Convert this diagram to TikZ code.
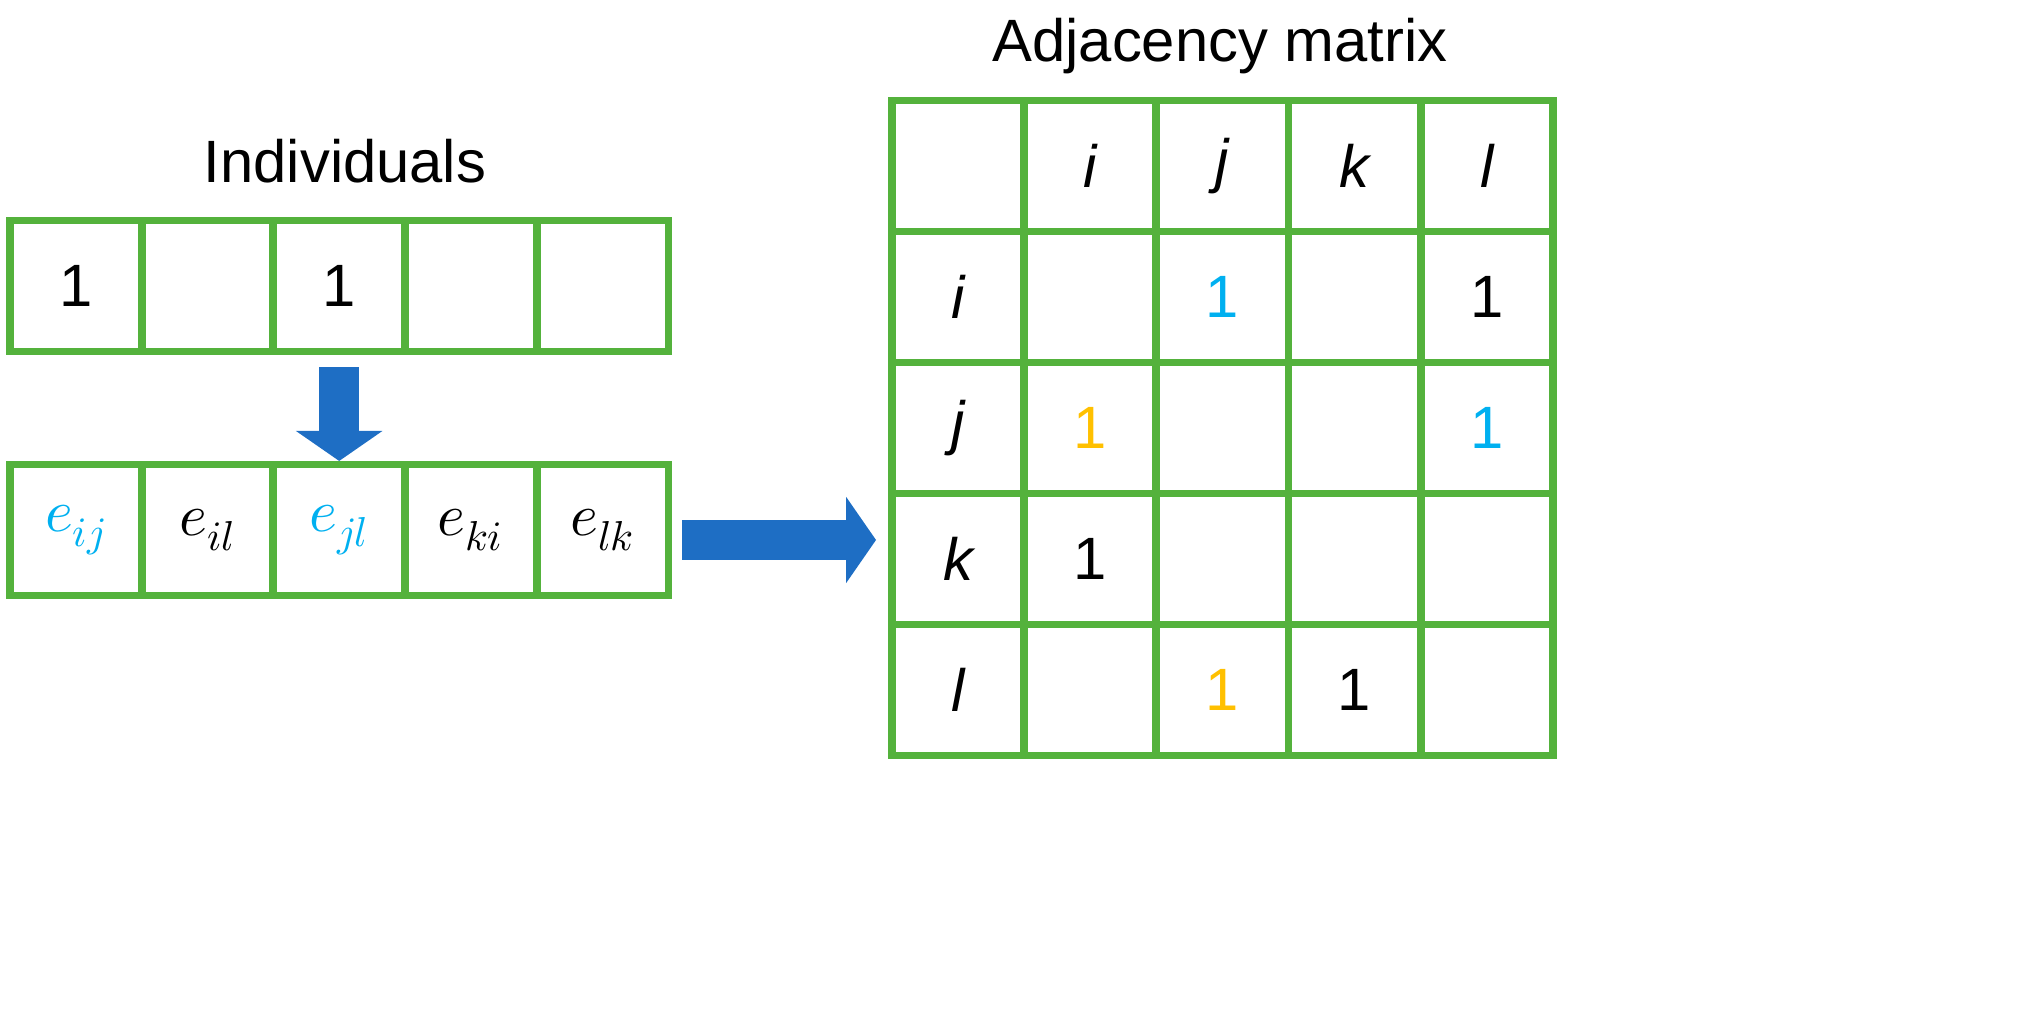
\documentclass[tikz,border=0pt]{standalone}
\usepackage{fontspec}
\setmainfont{Liberation Sans}
\usepackage{unicode-math}
\setmathfont{Latin Modern Math}
\usetikzlibrary{arrows.meta,positioning}
\definecolor{cellgreen}{RGB}{84,178,60}
\definecolor{arrowblue}{RGB}{30,110,196}
\definecolor{hicyan}{RGB}{0,176,240}
\definecolor{hiorange}{RGB}{255,192,0}
\tikzset{
  cell/.style={draw=cellgreen, line width=2.2pt, inner sep=0pt,
    minimum width=1.32cm, minimum height=1.31cm, font=\fontsize{17}{20}\selectfont},
  mcell/.style={cell, minimum width=1.322cm, minimum height=1.31cm},
  bigarrow/.style={arrowblue, line width=0.4cm,
    -{Triangle[length=0.3cm,width=0.85cm]}}
}
\begin{document}
\begin{tikzpicture}[x=1cm,y=1cm]
\useasboundingbox (0,0) rectangle (20.4,10.11);
% Titles
\node [font=\fontsize{17}{20}\selectfont] (indtitle) at (3.45,8.5) {Individuals};
\node [font=\fontsize{17}{20}\selectfont] (adjtitle) at (12.2,9.65) {Adjacency matrix};
% Individuals row
\foreach \t [count=\c] in {1,,1,,}
  \node [cell] (top\c) at (0.76+1.316*\c-1.316,7.25) {\t};
% Edge row
\foreach \t/\col [count=\c] in {e_{ij}/hicyan,e_{il}/black,e_{jl}/hicyan,e_{ki}/black,e_{lk}/black}
  \node [cell, text=\col] (bot\c) at (0.76+1.316*\c-1.316,4.81) {$\t$};
% Matrix
\foreach \r [count=\ri] in {0,1,2,3,4}
  \foreach \c [count=\ci] in {0,1,2,3,4}
    \node [mcell] (m\ri\ci) at (9.58+1.322*\c,8.45-1.31*\r) {};
% Headers
\foreach \t [count=\k from 2] in {i,j,k,l} {
  \node [font=\fontsize{17}{20}\selectfont] at (m1\k) {$\mathit{\t}$};
  \node [font=\fontsize{17}{20}\selectfont] at (m\k1) {$\mathit{\t}$};
}
% Entries
\begin{scope}[every node/.style={font=\fontsize{17}{20}\selectfont}]
  \node [text=hicyan] at (m23) {1};
  \node at (m25) {1};
  \node [text=hiorange] at (m32) {1};
  \node [text=hicyan] at (m35) {1};
  \node at (m42) {1};
  \node [text=hiorange] at (m53) {1};
  \node at (m54) {1};
\end{scope}
% Arrows
\coordinate (downstart) at ([yshift=-0.12cm]top3.south);
\coordinate (downend) at (downstart |- 0,5.5);
\draw [bigarrow] (downstart) -- (downend);
\coordinate (rightstart) at ([xshift=0.1cm]bot5.east |- 0,4.71);
\coordinate (rightend) at ([xshift=-0.12cm]m41.west |- 0,4.71);
\draw [bigarrow] (rightstart) -- (rightend);
\end{tikzpicture}
\end{document}
